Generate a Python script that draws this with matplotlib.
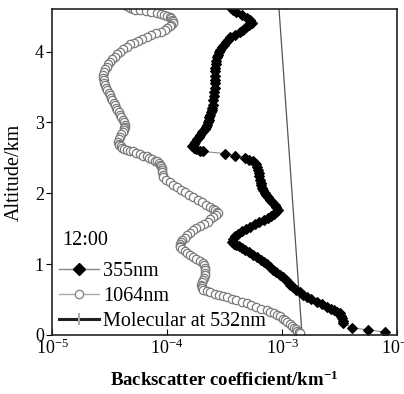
import matplotlib
matplotlib.use('Agg')
import matplotlib.pyplot as plt
from matplotlib.lines import Line2D

# ---- data ----
# 355 nm backscatter (km^-1) vs altitude (km)
alt_355 = [4.62, 4.59, 4.56, 4.52, 4.48, 4.44, 4.41, 4.38, 4.35, 4.31, 4.28, 4.24,
           4.20, 4.16, 4.13, 4.09, 4.06, 4.02, 3.99, 3.95, 3.92, 3.87, 3.82, 3.77,
           3.72, 3.66, 3.60, 3.55, 3.49, 3.43, 3.37, 3.31, 3.25, 3.21, 3.18, 3.14,
           3.11, 3.07, 3.04, 3.00, 2.97, 2.94, 2.91, 2.88, 2.86, 2.82, 2.79, 2.76,
           2.73, 2.69, 2.66, 2.64, 2.62, 2.60, 2.59,
           2.56, 2.53, 2.50, 2.47, 2.45, 2.41, 2.37, 2.33, 2.28, 2.24, 2.19, 2.15,
           2.12, 2.08, 2.05, 2.01, 1.98, 1.94, 1.91, 1.87, 1.84, 1.80, 1.77, 1.74,
           1.71, 1.68, 1.65, 1.62, 1.59, 1.56, 1.53, 1.49, 1.46, 1.42, 1.39, 1.35,
           1.31, 1.29, 1.27, 1.25, 1.23, 1.20, 1.17, 1.13, 1.10, 1.06, 1.03, 1.00,
           0.96, 0.92, 0.89, 0.85, 0.82, 0.78, 0.75, 0.71, 0.68, 0.64, 0.61, 0.57,
           0.54, 0.50, 0.47, 0.43, 0.40, 0.37, 0.35, 0.33, 0.31, 0.27, 0.24, 0.20,
           0.17, 0.10, 0.07, 0.04]
bsc_355 = [3.6e-4, 3.75e-4, 4.0e-4, 4.5e-4, 4.97e-4, 5.3e-4, 5.48e-4, 5.2e-4, 4.9e-4, 4.6e-4, 4.32e-4, 3.9e-4,
           3.53e-4, 3.4e-4, 3.25e-4, 3.1e-4, 3.01e-4, 2.9e-4, 2.85e-4, 2.78e-4, 2.72e-4, 2.68e-4, 2.65e-4, 2.63e-4,
           2.61e-4, 2.62e-4, 2.63e-4, 2.62e-4, 2.61e-4, 2.58e-4, 2.55e-4, 2.53e-4, 2.51e-4, 2.48e-4, 2.45e-4, 2.41e-4,
           2.37e-4, 2.33e-4, 2.30e-4, 2.26e-4, 2.23e-4, 2.17e-4, 2.12e-4, 2.06e-4, 2.01e-4, 1.94e-4, 1.88e-4, 1.81e-4,
           1.75e-4, 1.70e-4, 1.65e-4, 1.72e-4, 1.8e-4, 1.92e-4, 2.06e-4,
           3.19e-4, 3.90e-4, 4.76e-4, 5.2e-4, 5.60e-4, 5.9e-4, 6.07e-4, 6.15e-4, 6.25e-4, 6.35e-4, 6.44e-4, 6.5e-4,
           6.6e-4, 6.7e-4, 6.84e-4, 7.05e-4, 7.3e-4, 7.55e-4, 7.87e-4, 8.2e-4, 8.6e-4, 8.9e-4, 9.23e-4, 8.9e-4,
           8.5e-4, 8.0e-4, 7.55e-4, 6.9e-4, 6.3e-4, 5.8e-4, 5.27e-4, 4.85e-4, 4.5e-4, 4.15e-4, 3.90e-4, 3.75e-4,
           3.67e-4, 3.8e-4, 4.0e-4, 4.2e-4, 4.49e-4, 4.8e-4, 5.2e-4, 5.6e-4, 6.07e-4, 6.5e-4, 6.9e-4, 7.35e-4,
           7.87e-4, 8.4e-4, 8.9e-4, 9.5e-4, 1.02e-3, 1.07e-3, 1.12e-3, 1.18e-3, 1.25e-3, 1.33e-3, 1.42e-3, 1.53e-3,
           1.65e-3, 1.8e-3, 2.0e-3, 2.2e-3, 2.46e-3, 2.65e-3, 2.8e-3, 3.0e-3, 3.19e-3, 3.25e-3, 3.3e-3, 3.35e-3,
           3.39e-3, 4.06e-3, 5.60e-3, 7.87e-3]

# 1064 nm backscatter
alt_1064 = [4.66, 4.64, 4.62, 4.60, 4.59, 4.58, 4.57, 4.56, 4.55, 4.53, 4.52, 4.50,
            4.49, 4.47, 4.45, 4.43, 4.41, 4.38, 4.36, 4.33, 4.31, 4.28, 4.26, 4.23,
            4.21, 4.18, 4.15, 4.12, 4.10, 4.06, 4.03, 3.99, 3.96, 3.92, 3.89, 3.85,
            3.82, 3.78, 3.75, 3.71, 3.67, 3.63, 3.60, 3.56, 3.53, 3.49, 3.46, 3.42,
            3.39, 3.35, 3.32, 3.28, 3.25, 3.21, 3.18, 3.14, 3.11, 3.07, 3.04, 3.00,
            2.97, 2.94, 2.92, 2.89, 2.86, 2.83, 2.80, 2.76, 2.73, 2.70, 2.68, 2.66,
            2.64, 2.62, 2.61, 2.60, 2.59, 2.57, 2.55, 2.53, 2.52, 2.50, 2.48, 2.46,
            2.45, 2.42, 2.40, 2.38, 2.36, 2.33, 2.30, 2.26, 2.23, 2.19, 2.16, 2.12,
            2.09, 2.05, 2.02, 1.98, 1.95, 1.91, 1.88, 1.84, 1.81, 1.78, 1.76, 1.74,
            1.72, 1.69, 1.66, 1.63, 1.60, 1.57, 1.54, 1.51, 1.48, 1.44, 1.41, 1.37,
            1.34, 1.31, 1.29, 1.26, 1.24, 1.21, 1.18, 1.15, 1.13, 1.10, 1.07, 1.04,
            1.02, 0.98, 0.95, 0.91, 0.88, 0.84, 0.81, 0.77, 0.74, 0.71, 0.69, 0.66,
            0.64, 0.62, 0.60, 0.58, 0.57, 0.55, 0.53, 0.51, 0.49, 0.47, 0.45, 0.42,
            0.40, 0.37, 0.35, 0.33, 0.31, 0.28, 0.26, 0.23, 0.21, 0.18, 0.15, 0.12,
            0.10, 0.08, 0.06, 0.04, 0.03]
bsc_1064 = [4.31e-5, 4.5e-5, 4.8e-5, 5.0e-5, 5.27e-5, 5.8e-5, 6.5e-5, 7.3e-5, 8.18e-5, 8.8e-5, 9.4e-5, 1.0e-4,
            1.06e-4, 1.09e-4, 1.11e-4, 1.12e-4, 1.13e-4, 1.09e-4, 1.05e-4, 1.0e-4, 9.6e-5, 8.8e-5, 8.0e-5, 7.3e-5,
            6.70e-5, 6.1e-5, 5.6e-5, 5.15e-5, 4.77e-5, 4.45e-5, 4.15e-5, 3.9e-5, 3.67e-5, 3.5e-5, 3.35e-5, 3.2e-5,
            3.07e-5, 2.98e-5, 2.9e-5, 2.83e-5, 2.78e-5, 2.78e-5, 2.8e-5, 2.84e-5, 2.89e-5, 2.96e-5, 3.03e-5, 3.1e-5,
            3.19e-5, 3.27e-5, 3.35e-5, 3.44e-5, 3.53e-5, 3.6e-5, 3.7e-5, 3.8e-5, 3.90e-5, 4.0e-5, 4.1e-5, 4.2e-5,
            4.31e-5, 4.3e-5, 4.25e-5, 4.2e-5, 4.14e-5, 4.0e-5, 3.9e-5, 3.8e-5, 3.75e-5, 3.78e-5, 3.85e-5, 3.95e-5,
            4.06e-5, 4.25e-5, 4.5e-5, 4.75e-5, 5.06e-5, 5.4e-5, 5.8e-5, 6.2e-5, 6.70e-5, 7.0e-5, 7.4e-5, 7.8e-5,
            8.18e-5, 8.5e-5, 8.7e-5, 8.9e-5, 9.05e-5, 9.1e-5, 9.1e-5, 9.15e-5, 9.2e-5, 9.8e-5, 1.05e-4, 1.13e-4,
            1.22e-4, 1.32e-4, 1.43e-4, 1.55e-4, 1.68e-4, 1.84e-4, 2.0e-4, 2.18e-4, 2.37e-4, 2.5e-4, 2.6e-4, 2.7e-4,
            2.77e-4, 2.65e-4, 2.5e-4, 2.38e-4, 2.27e-4, 2.1e-4, 1.95e-4, 1.8e-4, 1.68e-4, 1.58e-4, 1.5e-4, 1.42e-4,
            1.35e-4, 1.32e-4, 1.30e-4, 1.29e-4, 1.30e-4, 1.36e-4, 1.43e-4, 1.5e-4, 1.58e-4, 1.68e-4, 1.8e-4, 1.92e-4,
            2.06e-4, 2.09e-4, 2.12e-4, 2.14e-4, 2.15e-4, 2.13e-4, 2.1e-4, 2.05e-4, 2.01e-4, 1.99e-4, 2.0e-4, 2.02e-4,
            2.05e-4, 2.2e-4, 2.37e-4, 2.6e-4, 2.8e-4, 3.05e-4, 3.32e-4, 3.65e-4, 4.0e-4, 4.45e-4, 4.97e-4, 5.4e-4,
            5.9e-4, 6.6e-4, 7.41e-4, 7.9e-4, 8.5e-4, 9.0e-4, 9.6e-4, 1.01e-3, 1.06e-3, 1.11e-3, 1.17e-3, 1.21e-3,
            1.26e-3, 1.31e-3, 1.35e-3, 1.40e-3, 1.43e-3]

# molecular backscatter at 532 nm
alt_mol = [0.0, 4.6]
bsc_mol = [1.49e-3, 9.4e-4]

xticks = [1e-5, 1e-4, 1e-3, 1e-2]
xticklabels = ['$\\mathregular{10^{-5}}$', '$\\mathregular{10^{-4}}$',
               '$\\mathregular{10^{-3}}$', '$\\mathregular{10^{-2}}$']
yticks = [0, 1, 2, 3, 4]

plt.rcParams['font.family'] = 'Liberation Serif'
plt.rcParams['mathtext.fontset'] = 'custom'
plt.rcParams['mathtext.rm'] = 'Liberation Serif'

fig = plt.figure(figsize=(4.04, 3.94), dpi=100)
ax = fig.add_axes([0.129, 0.150, 0.854, 0.827])

ax.plot(bsc_mol, alt_mol, '-', color='#555555', lw=0.9)
ax.plot(bsc_1064, alt_1064, '-', color='#999999', lw=0.8, marker='o', ms=6.0,
        mfc='white', mec='#7a7a7a', mew=0.9)
ax.plot(bsc_355, alt_355, '-', color='#888888', lw=0.8, marker='D', ms=5.5,
        mfc='black', mec='black', mew=0.8)

ax.set_xscale('log')
ax.set_xlim(1e-5, 1e-2)
ax.set_ylim(0, 4.6)
ax.set_xticks(xticks)
ax.set_xticklabels(xticklabels, fontsize=13)
ax.minorticks_off()
ax.set_yticks(yticks)
ax.set_yticklabels([str(v) for v in yticks], fontsize=13)
ax.tick_params(axis='x', direction='in', length=4, pad=3)
ax.tick_params(axis='y', direction='out', length=4, pad=2)
for s in ax.spines.values():
    s.set_linewidth(1.2)
    s.set_color('#222222')

ax.set_xlabel('Backscatter coefficient/km$\\mathregular{^{-1}}$', fontsize=13.5,
              fontweight='bold', labelpad=9)
ax.set_ylabel('Altitude/km', fontsize=14.5, labelpad=8)

# legend
handles = [
    Line2D([], [], color='#888888', lw=1.0, marker='D', ms=6, mfc='black', mec='black'),
    Line2D([], [], color='#aaaaaa', lw=1.0, marker='o', ms=6, mfc='white', mec='#888888'),
    Line2D([], [], color='#222222', lw=2.2, marker='|', ms=8, mec='#aaaaaa', mew=1.5),
]
leg = ax.legend(handles, ['355nm', '1064nm', 'Molecular at 532nm'],
                loc='lower left', bbox_to_anchor=(-0.015, -0.025), frameon=False,
                fontsize=14.5, handlelength=2.0,
                handletextpad=0.2, labelspacing=0.28, borderaxespad=0.2)
ax.text(0.03, 0.29, '12:00', transform=ax.transAxes, fontsize=14.5,
        ha='left', va='center')

fig.savefig('out.png', dpi=100)
